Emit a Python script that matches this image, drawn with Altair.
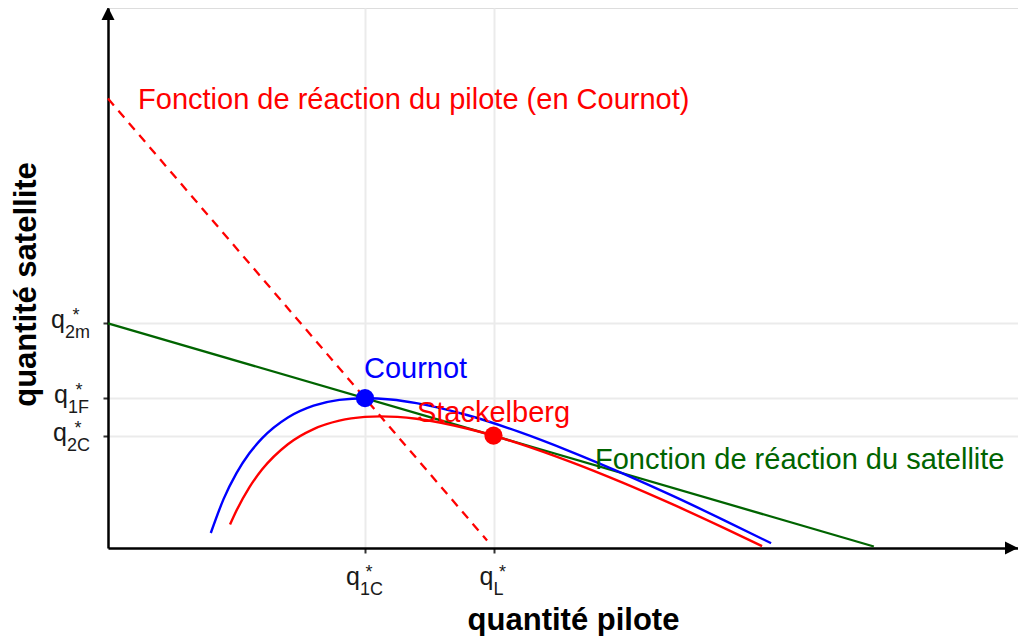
import altair as alt
import pandas as pd

# ---- data ----
# leader (pilote) isoprofit curve through Cournot (blue)
blue_q1 = [0.40, 0.45, 0.50, 0.55, 0.60, 0.70, 0.80, 0.90, 1.00, 1.10, 1.20, 1.40, 1.60, 1.80, 2.00, 2.20, 2.40, 2.58]
blue_q2 = [0.100, 0.328, 0.500, 0.632, 0.733, 0.871, 0.950, 0.989, 1.000, 0.991, 0.967, 0.886, 0.775, 0.644, 0.500, 0.346, 0.183, 0.032]
# leader isoprofit curve through Stackelberg (red)
red_q1 = [0.475, 0.50, 0.55, 0.60, 0.70, 0.80, 0.90, 1.00, 1.06, 1.20, 1.40, 1.50, 1.60, 1.80, 2.00, 2.20, 2.40, 2.545]
red_q2 = [0.157, 0.250, 0.405, 0.525, 0.693, 0.794, 0.850, 0.875, 0.879, 0.863, 0.796, 0.750, 0.697, 0.575, 0.438, 0.289, 0.131, 0.013]
# satellite reaction function (green)
green_q1 = [0.0, 2.98]
green_q2 = [1.5, 0.01]
# pilot reaction function in Cournot (red dashed)
dash_q1 = [0.0, 1.475]
dash_q2 = [3.0, 0.05]

# equilibria
eq_names = ["Cournot", "Stackelberg"]
eq_q1 = [1.0, 1.5]
eq_q2 = [1.0, 0.75]
eq_colors = ["#0000FF", "#FF0000"]

# annotations
ann_text = ["Fonction de réaction du pilote (en Cournot)", "Cournot", "Stackelberg",
            "Fonction de réaction du satellite"]
ann_x = [0.117, 0.996, 1.202, 1.895]
ann_y = [2.99, 1.195, 0.90, 0.587]
ann_colors = ["#FF0000", "#0000FF", "#FF0000", "#006400"]

# tick positions and labels (q with * superscript and subscript)
x_tick_vals = [1.0, 1.5]
x_tick_subs = ["1C", "L"]
y_tick_vals = [1.5, 1.0, 0.75]
y_tick_subs = ["2m", "1F", "2C"]

PX_X = 257.0
PX_Y = 149.8
W = 910
H = 540
X_MAX = W / PX_X
Y_MAX = H / PX_Y
FONT = "Liberation Sans"

xs = alt.Scale(domain=[0, X_MAX], nice=False, zero=False)
ys = alt.Scale(domain=[0, Y_MAX], nice=False, zero=False)

xaxis = alt.Axis(values=x_tick_vals, labels=False, title="quantité pilote",
                 grid=True, gridColor="#EBEBEB", gridWidth=2,
                 tickColor="#333333", tickWidth=2, tickSize=5,
                 domainColor="black", domainWidth=2.5,
                 titleFont=FONT, titleFontSize=31, titleFontWeight="bold",
                 titleColor="black", titleX=465, titleY=81,
                 titleBaseline="alphabetic", titleAlign="center")
yaxis = alt.Axis(values=y_tick_vals, labels=False, title="quantité satellite",
                 grid=True, gridColor="#EBEBEB", gridWidth=2,
                 tickColor="#333333", tickWidth=2, tickSize=5,
                 domainColor="black", domainWidth=2.5,
                 titleFont=FONT, titleFontSize=31, titleFontWeight="bold",
                 titleColor="black", titleX=-73, titleY=276,
                 titleBaseline="alphabetic", titleAlign="center", titleAngle=270)

def line_df(q1, q2):
    return pd.DataFrame({"q1": q1, "q2": q2})

base_grid = alt.Chart(line_df(green_q1, green_q2)).mark_line(opacity=0).encode(
    x=alt.X("q1:Q", scale=xs, axis=xaxis),
    y=alt.Y("q2:Q", scale=ys, axis=yaxis),
)

green = alt.Chart(line_df(green_q1, green_q2)).mark_line(color="#006400", strokeWidth=2.3).encode(
    x=alt.X("q1:Q", scale=xs), y=alt.Y("q2:Q", scale=ys))
dashed = alt.Chart(line_df(dash_q1, dash_q2)).mark_line(color="#FF0000", strokeWidth=2.3,
                                                        strokeDash=[9, 7]).encode(
    x=alt.X("q1:Q", scale=xs), y=alt.Y("q2:Q", scale=ys))
blue = alt.Chart(line_df(blue_q1, blue_q2)).mark_line(color="#0000FF", strokeWidth=2.4,
                                                      interpolate="monotone").encode(
    x=alt.X("q1:Q", scale=xs), y=alt.Y("q2:Q", scale=ys), order="q1:Q")
red = alt.Chart(line_df(red_q1, red_q2)).mark_line(color="#FF0000", strokeWidth=2.4,
                                                   interpolate="monotone").encode(
    x=alt.X("q1:Q", scale=xs), y=alt.Y("q2:Q", scale=ys), order="q1:Q")

eq_df = pd.DataFrame({"name": eq_names, "q1": eq_q1, "q2": eq_q2, "c": eq_colors})
pts = alt.Chart(eq_df).mark_circle(size=330, opacity=1).encode(
    x=alt.X("q1:Q", scale=xs), y=alt.Y("q2:Q", scale=ys),
    color=alt.Color("c:N", scale=None))

ann_df = pd.DataFrame({"t": ann_text, "x": ann_x, "y": ann_y, "c": ann_colors})
ann = alt.Chart(ann_df).mark_text(align="left", baseline="middle", font=FONT, fontSize=29).encode(
    x=alt.X("x:Q", scale=xs), y=alt.Y("y:Q", scale=ys), text="t:N",
    color=alt.Color("c:N", scale=None))

# arrows at the ends of the axes
arrow_up = alt.Chart(pd.DataFrame({"x": [0.0], "y": [(H - 5.5) / PX_Y]})).mark_point(
    shape="M0,-1L1,1L-1,1Z", size=169, filled=True, color="black", opacity=1).encode(
    x=alt.X("x:Q", scale=xs), y=alt.Y("y:Q", scale=ys))
arrow_right = alt.Chart(pd.DataFrame({"x": [(W - 6.5) / PX_X], "y": [0.0]})).mark_point(
    shape="M1,0L-1,-1L-1,1Z", size=169, filled=True, color="black", opacity=1).encode(
    x=alt.X("x:Q", scale=xs), y=alt.Y("y:Q", scale=ys))

# tick labels built from q, * and subscript
label_layers = []
x_q_dx = [-5, 0]
for v, sub, qdx in zip(x_tick_vals, x_tick_subs, x_q_dx):
    d = pd.DataFrame({"x": [v], "y": [0.0]})
    enc = dict(x=alt.X("x:Q", scale=xs), y=alt.Y("y:Q", scale=ys))
    label_layers.append(alt.Chart(d).mark_text(text="q", align="right", baseline="alphabetic",
                                               dx=qdx, dy=37, font=FONT, fontSize=25, color="#1A1A1A").encode(**enc))
    label_layers.append(alt.Chart(d).mark_text(text=sub, align="left", baseline="alphabetic",
                                               dx=qdx, dy=47, font=FONT, fontSize=18, color="#1A1A1A").encode(**enc))
    label_layers.append(alt.Chart(d).mark_text(text="*", align="center", baseline="alphabetic",
                                               dx=qdx + 9, dy=30, font=FONT, fontSize=18, color="#1A1A1A").encode(**enc))

y_q_dx = [-43, -40, -41]
for v, sub, qdx in zip(y_tick_vals, y_tick_subs, y_q_dx):
    d = pd.DataFrame({"x": [0.0], "y": [v]})
    enc = dict(x=alt.X("x:Q", scale=xs), y=alt.Y("y:Q", scale=ys))
    label_layers.append(alt.Chart(d).mark_text(text="q", align="right", baseline="alphabetic",
                                               dx=qdx, dy=5, font=FONT, fontSize=25, color="#1A1A1A").encode(**enc))
    label_layers.append(alt.Chart(d).mark_text(text=sub, align="left", baseline="alphabetic",
                                               dx=qdx, dy=15, font=FONT, fontSize=18, color="#1A1A1A").encode(**enc))
    label_layers.append(alt.Chart(d).mark_text(text="*", align="center", baseline="alphabetic",
                                               dx=qdx + 11, dy=-2, font=FONT, fontSize=18, color="#1A1A1A").encode(**enc))

chart = alt.layer(base_grid, green, dashed, blue, red, pts, ann, arrow_up, arrow_right,
                  *label_layers).properties(
    width=W, height=H,
    autosize=alt.AutoSizeParams(type="none"),
    padding={"left": 100, "top": 0, "right": 0, "bottom": 88},
).configure_view(stroke=None).configure(background="white")

chart.save("out.html", embed_options={"renderer": "svg", "actions": False})
